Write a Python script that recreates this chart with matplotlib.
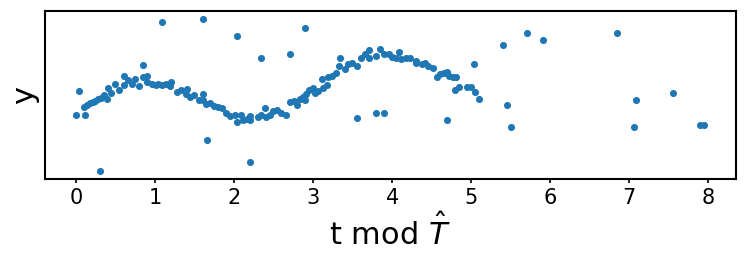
"""Scatter of folded time series: y against t mod T-hat."""

import matplotlib

matplotlib.use("Agg")
import matplotlib.pyplot as plt

# phase-folded points that follow the periodic curve
t_main = [
    0.00, 0.04, 0.11, 0.10, 0.14, 0.17, 0.21, 0.24, 0.27, 0.31,
    0.35, 0.39, 0.40, 0.44, 0.49, 0.54, 0.60, 0.60, 0.65, 0.70,
    0.75, 0.80, 0.84, 0.85, 0.90, 0.90, 0.96, 1.01, 1.04, 1.09,
    1.14, 1.20, 1.19, 1.28, 1.32, 1.40, 1.39, 1.44, 1.49, 1.56,
    1.60, 1.60, 1.64, 1.69, 1.74, 1.79, 1.85, 1.90, 1.95, 2.01,
    2.04, 2.09, 2.11, 2.16, 2.20, 2.20, 2.30, 2.34, 2.39, 2.40,
    2.45, 2.49, 2.54, 2.59, 2.65, 2.70, 2.75, 2.79, 2.83, 2.87,
    2.89, 2.91, 2.95, 3.00, 3.02, 3.06, 3.11, 3.12, 3.17, 3.19,
    3.24, 3.29, 3.33, 3.34, 3.40, 3.44, 3.49, 3.55, 3.61, 3.65,
    3.70, 3.71, 3.80, 3.85, 3.90, 3.96, 4.00, 4.05, 4.09, 4.11,
    4.17, 4.22, 4.30, 4.30, 4.37, 4.41, 4.45, 4.51, 4.56, 4.60,
    4.65, 4.69, 4.72, 4.77, 4.81, 4.80, 4.85, 4.95, 5.00, 5.05,
    5.10,
]
y_main = [
    -0.97, -0.24, -0.97, -0.73, -0.65, -0.61, -0.57, -0.53, -0.49, -0.45,
    -0.35, -0.47, -0.15, -0.30, -0.01, -0.21, 0.22, -0.05, 0.11, -0.03,
    0.12, -0.07, 0.54, 0.18, 0.22, 0.04, -0.01, -0.05, -0.01, -0.05,
    -0.03, 0.04, -0.09, -0.27, -0.21, -0.17, -0.33, -0.43, -0.37, -0.50,
    -0.33, -0.50, -0.63, -0.60, -0.70, -0.73, -0.75, -0.90, -0.99, -0.95,
    -1.16, -0.95, -1.12, -1.08, -0.99, -1.10, -1.02, -0.97, -0.75, -1.01,
    -0.97, -0.85, -0.80, -0.90, -0.95, -0.57, -0.53, -0.65, -0.47, -0.43,
    -0.51, -0.33, -0.20, -0.13, -0.30, -0.23, 0.14, -0.13, -0.05, 0.18,
    0.22, 0.31, 0.51, 0.78, 0.44, 0.58, 0.61, 0.52, 0.76, 0.88,
    1.01, 0.76, 0.84, 1.05, 0.90, 0.88, 0.81, 0.78, 0.96, 0.74,
    0.78, 0.76, 0.68, 0.60, 0.58, 0.61, 0.51, 0.46, 0.20, 0.28,
    0.31, 0.34, 0.21, 0.18, 0.18, -0.20, -0.10, -0.11, -0.11, -0.27,
    -0.48,
]

# scattered outliers
t_out = [
    1.09, 1.60, 2.04, 2.34, 1.66, 2.20, 0.30, 2.70, 2.90, 3.55,
    3.80, 3.90, 4.69, 5.04, 5.40, 5.70, 5.91, 5.45, 5.50, 6.85,
    7.09, 7.06, 7.55, 7.90, 7.95,
]
y_out = [
    1.86, 1.96, 1.43, 0.78, -1.72, -2.38, -2.67, 0.90, 1.67, -1.06,
    -0.91, -0.89, -1.11, 0.59, 1.15, 1.53, 1.30, -0.66, -1.33, 1.53,
    -0.50, -1.34, -0.29, -1.27, -1.27,
]

t_all = t_main + t_out
y_all = y_main + y_out

fig = plt.figure(figsize=(7.47, 2.62), dpi=100)
ax = fig.add_axes([0.060, 0.317, 0.925, 0.641])

ax.scatter(t_all, y_all, s=26, color="#1f77b4", linewidths=0)

ax.set_xticks(range(0, 9))
ax.set_yticks([])
ax.tick_params(axis="x", labelsize=15, width=1.2, length=3)
for side in ax.spines.values():
    side.set_linewidth(1.5)

ax.set_xlabel(r"t mod $\hat{T}$", fontsize=22)
ax.set_ylabel("y", fontsize=22)

fig.savefig("out.png", dpi=100)
